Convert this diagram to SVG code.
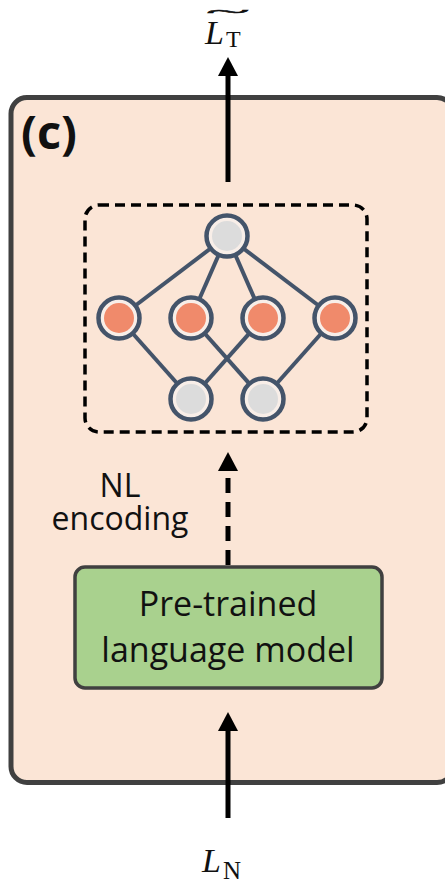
<svg xmlns="http://www.w3.org/2000/svg" width="445" height="885" viewBox="0 0 445 885">
  <style>
    .lbl { font-family: "Open Sans", "Liberation Sans", sans-serif; fill: #111; text-anchor: middle; }
    .math { font-family: "Liberation Serif", "DejaVu Serif", serif; fill: #111; }
    .edge { stroke: #44546a; stroke-width: 4; fill: none; }
    .ring { fill: #f8eee8; stroke: #44546a; stroke-width: 4.5; }
    .core-o { fill: #f08a6b; }
    .core-g { fill: #dcdcdc; }
    .arrow { stroke: #000; stroke-width: 5; fill: none; }
  </style>
  <defs>
    <g id="node-o">
      <circle class="ring" r="20.5"/>
      <circle class="core-o" r="15"/>
    </g>
    <g id="node-g">
      <circle class="ring" r="20.5"/>
      <circle class="core-g" r="15"/>
    </g>
  </defs>

  <rect width="445" height="885" fill="#ffffff"/>

  <!-- panel frame -->
  <g id="panel">
    <rect x="11" y="97.5" width="442" height="685" rx="16" fill="#fbe5d6" stroke="#404040" stroke-width="5"/>
    <text class="lbl" x="21" y="149" style="text-anchor:start; font-weight:700; font-size:47px;">(c)</text>
  </g>

  <!-- graph encoder block -->
  <g id="graph-block">
    <rect x="85" y="205" width="282" height="227" rx="14" fill="none" stroke="#000" stroke-width="3.5" stroke-dasharray="10 6"/>
    <g id="graph-edges">
      <line class="edge" x1="227" y1="236" x2="119" y2="318"/>
      <line class="edge" x1="227" y1="236" x2="191" y2="318"/>
      <line class="edge" x1="227" y1="236" x2="263" y2="318"/>
      <line class="edge" x1="227" y1="236" x2="335" y2="318"/>
      <line class="edge" x1="119" y1="318" x2="191" y2="399"/>
      <line class="edge" x1="191" y1="318" x2="263" y2="399"/>
      <line class="edge" x1="263" y1="318" x2="191" y2="399"/>
      <line class="edge" x1="335" y1="318" x2="263" y2="399"/>
    </g>
    <use id="n-top" href="#node-g" x="227" y="236"/>
    <use id="n-m1" href="#node-o" x="119" y="318"/>
    <use id="n-m2" href="#node-o" x="191" y="318"/>
    <use id="n-m3" href="#node-o" x="263" y="318"/>
    <use id="n-m4" href="#node-o" x="335" y="318"/>
    <use id="n-b1" href="#node-g" x="191" y="399"/>
    <use id="n-b2" href="#node-g" x="263" y="399"/>
  </g>

  <!-- language model block -->
  <g id="plm">
    <rect x="75" y="567" width="307" height="121" rx="10" fill="#a9d18e" stroke="#404040" stroke-width="3.5"/>
    <text class="lbl" style="font-size:34px;"><tspan x="228" y="616">Pre-trained</tspan><tspan x="228" y="662">language model</tspan></text>
  </g>

  <!-- connectors -->
  <g id="connectors">
    <line class="arrow" x1="228" y1="182" x2="228" y2="74"/>
    <polygon points="228,57 218,76 238,76" fill="#000"/>

    <line class="arrow" x1="228" y1="565" x2="228" y2="470" stroke-dasharray="15 9"/>
    <polygon points="228,452 218,471 238,471" fill="#000"/>

    <line class="arrow" x1="228" y1="818" x2="228" y2="729"/>
    <polygon points="228,712 218,731 238,731" fill="#000"/>
  </g>

  <!-- labels -->
  <g id="label-nl">
    <text class="lbl" style="font-size:32px;"><tspan x="120" y="497">NL</tspan><tspan x="120" y="530">encoding</tspan></text>
  </g>

  <g id="label-out">
    <text class="math" x="205" y="44" style="font-size:34px;"><tspan font-style="italic">L</tspan><tspan font-size="24" dy="3" dx="2">T</tspan></text>
    <!-- wide tilde accent over the symbol -->
    <text class="math" transform="translate(228 17.5) scale(4.5 1.05)" text-anchor="middle" stroke="#111" stroke-width="0.5" style="font-size:18px;">~</text>
  </g>

  <g id="label-in">
    <text class="math" x="202" y="872" style="font-size:34px;"><tspan font-style="italic">L</tspan><tspan font-size="25" dy="7" dx="2">N</tspan></text>
  </g>
</svg>
